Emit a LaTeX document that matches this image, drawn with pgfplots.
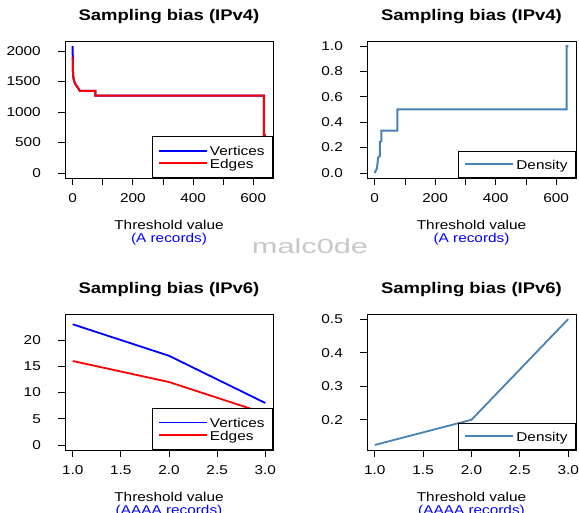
\documentclass[border=0pt]{standalone}
\usepackage{fontspec}
\setmainfont{Liberation Sans}[FakeStretch=1.2]
\newfontfamily\wmfont{Liberation Sans}[FakeStretch=1.5]
\usepackage{pgfplots}
\pgfplotsset{compat=1.18}

\definecolor{steel}{RGB}{70,130,180}
\definecolor{wmgray}{RGB}{200,200,200}
\newcommand{\tf}{\fontsize{12.8}{13}\selectfont}
\newcommand{\lstrut}{\rule[-1.6pt]{0pt}{12.6pt}}

\pgfplotsset{
  rpanel/.style={
    scale only axis,
    axis line style={black, line width=0.8pt},
    tick align=outside, major tick length=7pt, tick pos=left,
    tick style={black, line width=0.8pt},
    /pgf/number format/assume math mode=true,
    every tick label/.append style={font=\tf, inner sep=0pt},
    yticklabel style={anchor=east, xshift=-17pt},
    xticklabel style={anchor=north, yshift=-8.4pt},
    title style={at={(0.5,1)}, anchor=base, yshift=14pt, font=\bfseries\fontsize{15.4}{18}\selectfont},
    xlabel={Threshold value},
    xlabel style={at={(axis description cs:0.5,0)}, anchor=base, yshift=-51.5pt, font=\tf, inner sep=0pt},
    legend cell align=left,
    legend image code/.code={\path (0pt,0pt) -- (48pt,0pt); \draw[##1] (5pt,0pt) -- (36pt,0pt);},
    legend style={at={(1,0)}, anchor=south east, draw=black, fill=white,
      inner xsep=6pt, inner ysep=8pt, row sep=0.3pt, font=\tf,
      nodes={inner xsep=2pt, inner ysep=0pt}},
  },
  sublabel/.style={extra description/.code={\node[anchor=base, text=blue, font=\tf, inner sep=0pt, yshift=-64.7pt] at (0.5,0) {#1};}},
}

\pgfplotstableread{
x y
0 2080
0.3 1800
0.8 1680
1.5 1600
3 1540
4.4 1525
7 1470
11 1443
15 1410
18.7 1389
21 1365
24 1347
75 1347
75 1268
635 1268
635 625
641 625
}\vertA

\pgfplotstableread{
x y
0 1907
0.5 1720
1 1650
1.5 1600
3 1540
4.4 1525
7 1470
11 1443
15 1410
18.7 1389
21 1365
24 1345
75 1345
75 1266
635 1266
635 623
641 623
}\edgeA

\pgfplotstableread{
x y
0 0
4 0.02
7.7 0.04
11 0.12
16.6 0.134
16.6 0.245
22 0.25
22 0.333
75 0.333
75 0.5
635 0.5
635 1.0
640 1.0
}\densA

\begin{document}
\begin{tikzpicture}
\path[use as bounding box] (0,0) rectangle (579pt,512pt);

% Top-left
\begin{axis}[rpanel, at={(65pt,334pt)}, anchor=south west, width=208pt, height=137pt,
  title={Sampling bias (IPv4)},
  xmin=-25.6, xmax=665.6, ymin=-83.2, ymax=2163.2,
  xtick={0,100,...,600}, xticklabels={0,,200,,400,,600},
  ytick={0,500,1000,1500,2000}, yticklabels={0,500,1000,1500,2000},
  legend style={line width=0.8pt},
  sublabel={(A records)}]
\addplot[blue, line width=2pt] table {\vertA};
\addlegendentry{\lstrut Vertices}
\addplot[red, line width=2pt] table {\edgeA};
\addlegendentry{\lstrut Edges}
\end{axis}

% Top-right
\begin{axis}[rpanel, at={(367pt,334pt)}, anchor=south west, width=209pt, height=137pt,
  title={Sampling bias (IPv4)},
  xmin=-25.6, xmax=665.6, ymin=-0.04, ymax=1.04,
  xtick={0,100,...,600}, xticklabels={0,,200,,400,,600},
  ytick={0,0.2,0.4,0.6,0.8,1.0}, yticklabels={0.0,0.2,0.4,0.6,0.8,1.0},
  legend style={inner ysep=7pt, line width=0.8pt},
  sublabel={(A records)}]
\addplot[steel, line width=2pt] table {\densA};
\addlegendentry{\lstrut Density}
\end{axis}

% Bottom-left
\begin{axis}[rpanel, at={(65pt,62pt)}, anchor=south west, width=208pt, height=136pt,
  title={Sampling bias (IPv6)}, title style={yshift=1pt},
  xmin=0.92, xmax=3.08, ymin=-0.96, ymax=24.96,
  xtick={1,1.5,2,2.5,3}, xticklabels={1.0,1.5,2.0,2.5,3.0},
  ytick={0,5,10,15,20}, yticklabels={0,5,10,15,20},
  legend style={line width=0.8pt},
  sublabel={(AAAA records)}]
\addplot[blue, line width=1.8pt] coordinates {(1,23) (2,17) (3,8)};
\addlegendentry{\lstrut Vertices}
\addplot[red, line width=1.8pt] coordinates {(1,16) (2,12) (3,6)};
\addlegendentry{\lstrut Edges}
\end{axis}

% Bottom-right
\begin{axis}[rpanel, at={(367pt,62pt)}, anchor=south west, width=209pt, height=136pt,
  title={Sampling bias (IPv6)}, title style={yshift=1pt},
  xmin=0.92, xmax=3.08, ymin=0.11, ymax=0.515,
  xtick={1,1.5,2,2.5,3}, xticklabels={1.0,1.5,2.0,2.5,3.0},
  ytick={0.2,0.3,0.4,0.5}, yticklabels={0.2,0.3,0.4,0.5},
  legend style={inner ysep=7pt, line width=0.8pt},
  sublabel={(AAAA records)}]
\addplot[steel, line width=1.8pt] coordinates {(1,0.125) (2,0.2) (3,0.5)};
\addlegendentry{\lstrut Density}
\end{axis}

\node[anchor=base, text=wmgray, font=\wmfont\fontsize{20.5}{24}\selectfont, inner sep=0pt] at (310pt,258.7pt) {malc0de};
\end{tikzpicture}
\end{document}
